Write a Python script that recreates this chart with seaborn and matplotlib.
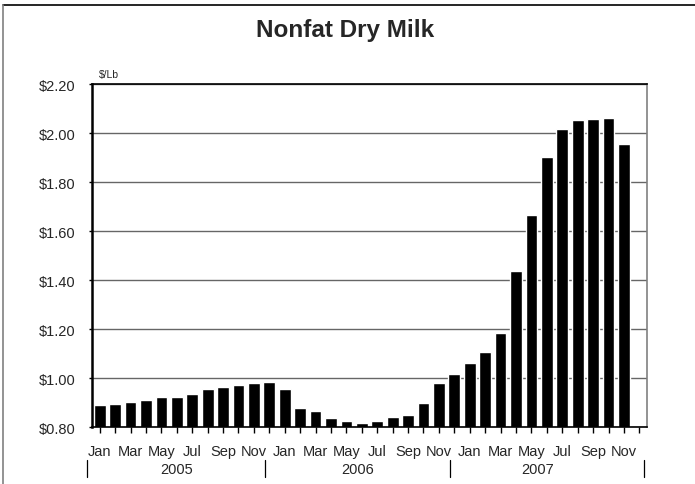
import pandas as pd
import seaborn as sns
import matplotlib.pyplot as plt
from matplotlib.lines import Line2D

# Monthly prices, $/Lb (Jan 2005 - Nov 2007)
years = ['2005', '2006', '2007']
month_names = ['Jan', 'Feb', 'Mar', 'Apr', 'May', 'Jun',
               'Jul', 'Aug', 'Sep', 'Oct', 'Nov', 'Dec']
prices_2005 = [0.888, 0.894, 0.902, 0.910, 0.924, 0.921,
               0.935, 0.954, 0.965, 0.973, 0.979, 0.984]
prices_2006 = [0.955, 0.877, 0.865, 0.836, 0.823, 0.816,
               0.823, 0.842, 0.849, 0.896, 0.979, 1.017]
prices_2007 = [1.063, 1.105, 1.184, 1.435, 1.666, 1.901,
               2.018, 2.055, 2.056, 2.063, 1.956]
y_ticks = [0.80, 1.00, 1.20, 1.40, 1.60, 1.80, 2.00, 2.20]

# Build the table; Dec 2007 slot stays empty
keys = [f'{y}-{m}' for y in years for m in month_names]
values = prices_2005 + prices_2006 + prices_2007
data = pd.DataFrame({'month': keys[:len(values)], 'price': values})

sns.set_style('white')
plt.rcParams['font.family'] = ['Liberation Sans', 'DejaVu Sans']

fig = plt.figure(figsize=(6.95, 4.85), dpi=100)
ax = fig.add_axes([0.1324, 0.1175, 0.7986, 0.7072])

sns.barplot(data=data, x='month', y='price', order=keys, color='black',
            saturation=1, width=0.76, errorbar=None, ax=ax)

ax.set_xlim(-0.5, len(keys) - 0.5)
ax.set_ylim(0.80, 2.20)
ax.set_yticks(y_ticks)
ax.set_yticklabels([f'${v:.2f}' for v in y_ticks], fontsize=10.5)
ax.set_axisbelow(True)
ax.yaxis.grid(True, color='#666666', linewidth=1)

# month ticks, label every other month
ax.set_xticks(range(len(keys)))
ax.set_xticklabels([k.split('-')[1] if i % 2 == 0 else '' for i, k in enumerate(keys)],
                   fontsize=10.5)
ax.tick_params(axis='x', direction='out', length=4, width=1, color='black', pad=8.5, bottom=True)
ax.tick_params(axis='y', direction='out', length=2.5, width=1, color='black', pad=9.5, left=True)
ax.set_xlabel('')
ax.set_ylabel('')

for side in ['left', 'bottom', 'top']:
    ax.spines[side].set_color('black')
    ax.spines[side].set_linewidth(1.2)
ax.spines['left'].set_linewidth(1.8)
ax.spines['right'].set_color('#808080')
ax.spines['right'].set_linewidth(1.2)

# year labels and separators
trans = ax.get_xaxis_transform()
year_pos = [5.0, 16.7, 28.4]
sep_pos = [-0.8, 10.7, 22.7, 35.3]
for yr, xp in zip(years, year_pos):
    ax.text(xp, -0.123, yr, transform=trans, ha='center', va='center', fontsize=10.5)
for xp in sep_pos:
    ax.plot([xp, xp], [-0.096, -0.146], transform=trans, color='black',
            linewidth=0.9, clip_on=False)

ax.text(-0.08, 1.029, '$/Lb', transform=trans, ha='left', va='center', fontsize=7.5)

fig.text(0.497, 0.938, 'Nonfat Dry Milk', ha='center', va='center',
         fontsize=17.5, fontweight='bold')

# outer chart border (top and left visible)
fig.add_artist(Line2D([3 / 695, 1], [1 - 6 / 485, 1 - 6 / 485], color='black', linewidth=1.2))
fig.add_artist(Line2D([3 / 695, 3 / 695], [0, 1 - 6 / 485], color='#808080', linewidth=1.2))

fig.savefig('out.png', dpi=100)
